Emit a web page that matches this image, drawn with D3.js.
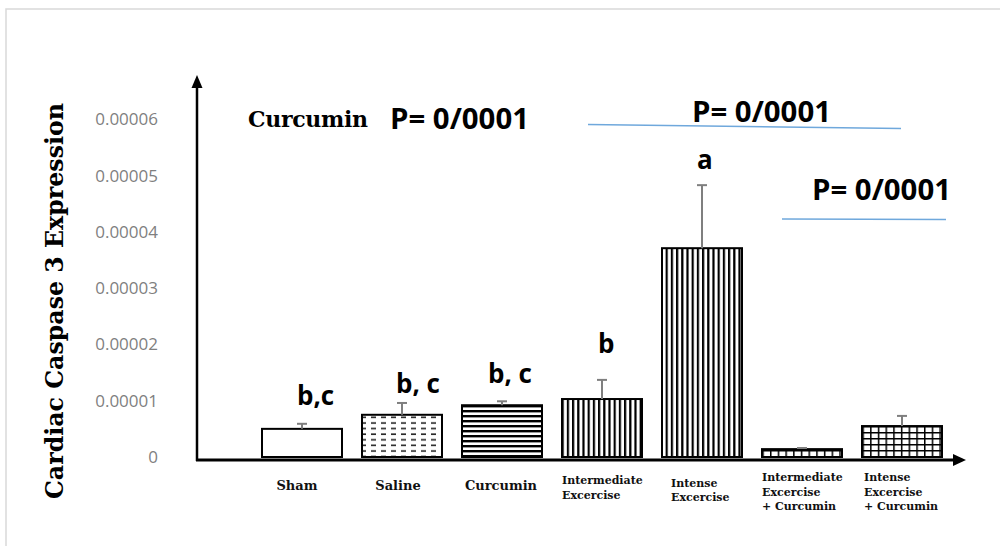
<!DOCTYPE html>
<html>
<head>
<meta charset="utf-8">
<script src="https://cdn.jsdelivr.net/npm/d3@7"></script>
<style>
body { margin: 0; background: #fff; }
</style>
</head>
<body>
<script>
var w = 1000;
var h = 546;

// data
var groups = ["Sham", "Saline", "Curcumin", "Intermediate Excercise", "Intense Excercise",
  "Intermediate Excercise + Curcumin", "Intense Excercise + Curcumin"];
var labelLines = [["Sham"], ["Saline"], ["Curcumin"], ["Intermediate", "Excercise"],
  ["Intense", "Excercise"], ["Intermediate", "Excercise", "+ Curcumin"], ["Intense", "Excercise", "+ Curcumin"]];
var means = [0.0000050, 0.0000075, 0.0000092, 0.0000103, 0.0000371, 0.0000014, 0.0000055];
var errTops = [0.0000059, 0.0000096, 0.0000099, 0.0000137, 0.0000483, 0.0000016, 0.0000073];
var letters = ["b,c", "b, c", "b, c", "b", "a", "", ""];
var yTicks = [0, 0.00001, 0.00002, 0.00003, 0.00004, 0.00005, 0.00006];
var patterns = ["none", "dash", "hline", "vline", "vline", "grid", "grid"];

var svg = d3.select("body").append("svg")
    .attr("width", w)
    .attr("height", h)
    .style("background-color", "white");

// light frame around the figure
svg.append("rect")
    .attr("x", 6).attr("y", 9)
    .attr("width", 1010).attr("height", 600)
    .attr("fill", "none")
    .attr("stroke", "#d9d9d9")
    .attr("stroke-width", 1.5);

var x = d3.scaleBand().domain(groups).range([252, 952]).paddingInner(0.2).paddingOuter(0.1);
var y = d3.scaleLinear().domain([0, 0.00006]).range([457, 119.3]);

// fill patterns
var defs = svg.append("defs");
var p = defs.append("pattern").attr("id", "dash").attr("patternUnits", "userSpaceOnUse")
    .attr("width", 10).attr("height", 5.6);
p.append("line").attr("x1", 1).attr("x2", 6).attr("y1", 3).attr("y2", 3)
    .attr("stroke", "#222").attr("stroke-width", 1.6);

p = defs.append("pattern").attr("id", "hline").attr("patternUnits", "userSpaceOnUse")
    .attr("width", 10).attr("height", 5);
p.append("rect").attr("x", 0).attr("y", 0).attr("width", 10).attr("height", 2.4).attr("fill", "#000");

p = defs.append("pattern").attr("id", "vline").attr("patternUnits", "userSpaceOnUse")
    .attr("width", 5.2).attr("height", 10);
p.append("rect").attr("x", 0).attr("y", 0).attr("width", 2.2).attr("height", 10).attr("fill", "#000");

p = defs.append("pattern").attr("id", "grid").attr("patternUnits", "userSpaceOnUse")
    .attr("width", 7.7).attr("height", 6);
p.append("rect").attr("x", 0).attr("y", 0).attr("width", 1.5).attr("height", 6).attr("fill", "#000");
p.append("rect").attr("x", 0).attr("y", 0).attr("width", 7.7).attr("height", 1.5).attr("fill", "#000");

// bars
svg.selectAll(".bar").data(groups).enter().append("rect")
    .attr("class", "bar")
    .attr("x", d => x(d))
    .attr("y", (d, i) => y(means[i]))
    .attr("width", x.bandwidth())
    .attr("height", (d, i) => y(0) - y(means[i]))
    .attr("fill", (d, i) => patterns[i] == "none" ? "white" : "url(#" + patterns[i] + ")")
    .attr("stroke", "#000")
    .attr("stroke-width", 2);

// error bars (upper only)
svg.selectAll(".err").data(groups).enter().append("line")
    .attr("x1", d => x(d) + x.bandwidth() / 2)
    .attr("x2", d => x(d) + x.bandwidth() / 2)
    .attr("y1", (d, i) => y(means[i]))
    .attr("y2", (d, i) => y(errTops[i]))
    .attr("stroke", "#7f7f7f").attr("stroke-width", 2);
svg.selectAll(".cap").data(groups).enter().append("line")
    .attr("x1", d => x(d) + x.bandwidth() / 2 - 5)
    .attr("x2", d => x(d) + x.bandwidth() / 2 + 5)
    .attr("y1", (d, i) => y(errTops[i]))
    .attr("y2", (d, i) => y(errTops[i]))
    .attr("stroke", "#7f7f7f").attr("stroke-width", 2);

// significance letters
var letterDx = [-5, -6, -14, -4, -5, 0, 0];
var letterGap = [19, 10, 18, 27, 16, 0, 0];
svg.selectAll(".letter").data(groups).enter().append("text")
    .attr("x", (d, i) => x(d) + x.bandwidth() / 2 + letterDx[i])
    .attr("y", (d, i) => y(errTops[i]) - letterGap[i])
    .style("font-family", "'Open Sans', sans-serif")
    .style("font-weight", "bold")
    .style("font-size", "26px")
    .text((d, i) => letters[i]);

// y axis: labels only, plus arrow line
var yAxis = svg.append("g").attr("transform", "translate(158,0)")
    .call(d3.axisLeft(y).tickValues(yTicks).tickSize(0).tickPadding(0)
      .tickFormat(d => d == 0 ? "0" : d3.format(".5f")(d)));
yAxis.select(".domain").remove();
yAxis.selectAll("text")
    .style("font-family", "'Open Sans', sans-serif")
    .style("font-size", "17px")
    .attr("fill", "#7f7f7f");

svg.append("line").attr("x1", 197).attr("x2", 197).attr("y1", 461).attr("y2", 86)
    .attr("stroke", "#000").attr("stroke-width", 2.5);
svg.append("path").attr("d", "M191.5,88 L197,75 L202.5,88 Z").attr("fill", "#000");

// x axis with arrow
svg.append("line").attr("x1", 196).attr("x2", 955).attr("y1", 460).attr("y2", 460)
    .attr("stroke", "#000").attr("stroke-width", 3);
svg.append("path").attr("d", "M953,454 L966,460 L953,466 Z").attr("fill", "#000");

// category labels
var labelDx = [-5, -4, -1, 0, 9, 0, 2];
var labelY = [[490], [490], [490], [484, 499], [487, 501], [481, 496, 510], [481, 496, 510]];
var cat = svg.selectAll(".cat").data(groups).enter().append("text")
    .attr("text-anchor", (d, i) => labelLines[i].length == 1 ? "middle" : "start")
    .style("font-family", "'DejaVu Serif', serif")
    .style("font-weight", "bold")
    .style("font-size", (d, i) => labelLines[i].length == 1 ? "13px" : "11px")
    .attr("fill", "#111");
cat.each(function(d, i) {
  var xx = labelLines[i].length == 1 ? x(d) + x.bandwidth() / 2 + labelDx[i] : x(d) + labelDx[i];
  d3.select(this).selectAll("tspan").data(labelLines[i]).enter().append("tspan")
    .attr("x", xx)
    .attr("y", (t, j) => labelY[i][j])
    .text(t => t);
});

// y axis title
svg.append("text")
    .attr("transform", "translate(63,301)rotate(-90)")
    .attr("text-anchor", "middle")
    .attr("textLength", 396)
    .attr("lengthAdjust", "spacingAndGlyphs")
    .style("font-family", "'DejaVu Serif', serif")
    .style("font-weight", "bold")
    .style("font-size", "24px")
    .text("Cardiac Caspase 3 Expression");

// P-value annotations
svg.append("text").attr("x", 248).attr("y", 127)
    .style("font-family", "'DejaVu Serif', serif")
    .style("font-weight", "bold")
    .style("font-size", "22px")
    .attr("textLength", 120)
    .text("Curcumin");

var pTexts = [[390, 129], [692, 122], [812, 200]];
svg.selectAll(".pval").data(pTexts).enter().append("text")
    .attr("x", d => d[0]).attr("y", d => d[1])
    .attr("textLength", 139)
    .attr("lengthAdjust", "spacingAndGlyphs")
    .style("font-family", "'Open Sans', sans-serif")
    .style("font-weight", "bold")
    .style("font-size", "29px")
    .text("P= 0/0001");

svg.append("line").attr("x1", 588).attr("y1", 124.5).attr("x2", 901).attr("y2", 128.5)
    .attr("stroke", "#6fa8dc").attr("stroke-width", 1.5);
svg.append("line").attr("x1", 782).attr("y1", 219).attr("x2", 946).attr("y2", 219.5)
    .attr("stroke", "#6fa8dc").attr("stroke-width", 1.5);
</script>
</body>
</html>
